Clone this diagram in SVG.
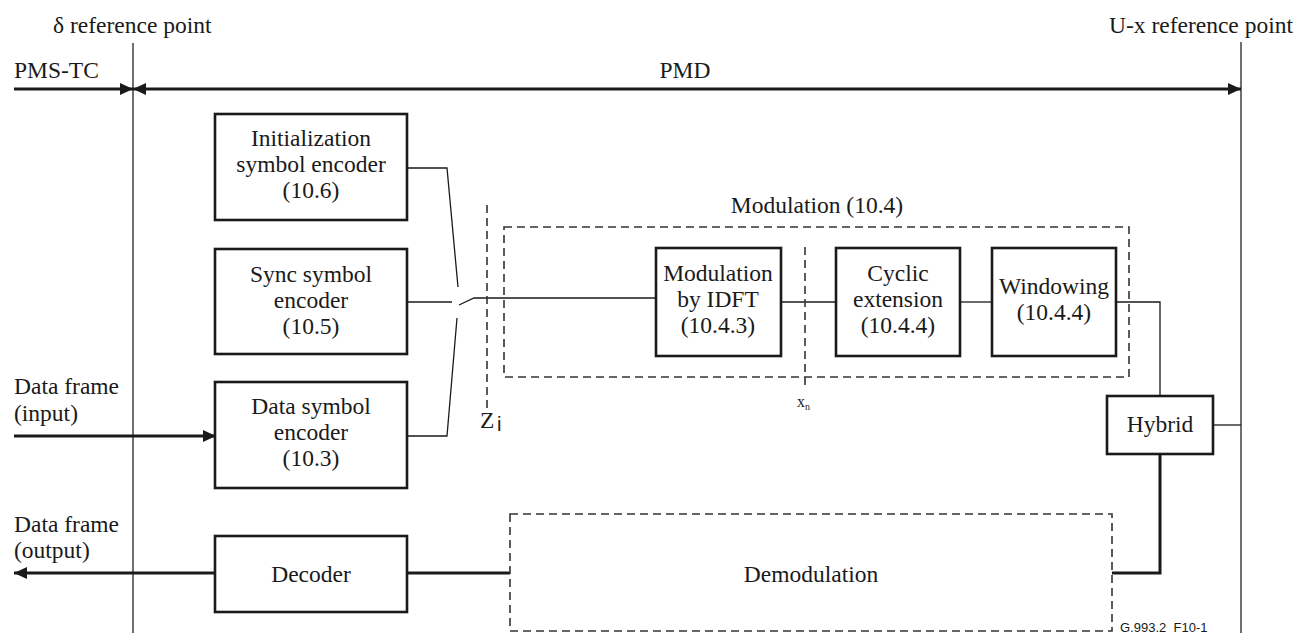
<svg xmlns="http://www.w3.org/2000/svg" width="1296" height="633" viewBox="0 0 1296 633" font-family="Liberation Serif, serif">
<style>
text{font-family:"Times New Roman","Liberation Serif",Tinos,"Nimbus Roman","DejaVu Serif","Noto Serif",serif;font-size:23.5px;fill:#1a1a1a}
.c{text-anchor:middle}
.box{fill:#fff;stroke:#1a1a1a;stroke-width:2.6}
.thin{fill:none;stroke:#1a1a1a;stroke-width:1.3}
.thick{fill:none;stroke:#1a1a1a;stroke-width:3}
.ref{fill:none;stroke:#333;stroke-width:1.4}
.dash{fill:none;stroke:#333;stroke-width:1.6;stroke-dasharray:8 5}
text.lbl{font-family:"Liberation Sans",Arial,sans-serif;font-size:13px}
text.sans{font-family:"Liberation Sans",Arial,sans-serif;font-size:20px}
</style>
<defs>
<marker id="ah" viewBox="0 0 13 12" refX="13" refY="6" markerUnits="userSpaceOnUse" markerWidth="13" markerHeight="12" orient="auto-start-reverse">
<path d="M0,0 L13,6 L0,12 z" fill="#1a1a1a"/>
</marker>
</defs>

<g id="reference-lines">
<line class="ref" x1="133" y1="43" x2="133" y2="633"/>
<line class="ref" x1="1241" y1="42" x2="1241" y2="633"/>
<text x="53" y="33">δ reference point</text>
<text x="1109" y="33">U-x reference point</text>
<text x="14" y="78">PMS-TC</text>
<text class="c" x="685" y="78">PMD</text>
</g>

<g id="connectors">
<line class="thick" x1="14" y1="89" x2="133" y2="89" marker-end="url(#ah)"/>
<line class="thick" x1="133" y1="89" x2="1241" y2="89" marker-start="url(#ah)" marker-end="url(#ah)"/>
<line class="thick" x1="14" y1="436" x2="216" y2="436" marker-end="url(#ah)"/>
<line class="thick" x1="215" y1="573" x2="14" y2="573" marker-end="url(#ah)"/>
<line class="thick" x1="407" y1="573" x2="510" y2="573"/>
<polyline class="thick" points="1160,454 1160,573 1112,573"/>
<polyline class="thin" points="407,168 447,168 458,287"/>
<line class="thin" x1="407" y1="302" x2="452" y2="302"/>
<polyline class="thin" points="407,436 447,436 457,318"/>
<polyline class="thin" points="459,305 474,298 656,298"/>
<line class="thin" x1="781" y1="302" x2="836" y2="302"/>
<line class="thin" x1="960" y1="302" x2="992" y2="302"/>
<polyline class="thin" points="1116,302 1160,302 1160,396"/>
<line class="thin" x1="1213" y1="425" x2="1241" y2="425"/>
<line class="dash" x1="487" y1="205" x2="487" y2="408"/>
<line class="dash" x1="805" y1="247" x2="805" y2="390"/>
<text x="480" y="428">Z</text>
<text class="sans" x="497" y="431">i</text>
<text x="797" y="407" style="font-size:16px">x</text>
<text x="805" y="410" style="font-size:10px">n</text>
</g>

<g id="init-encoder">
<rect class="box" x="215" y="114" width="192" height="106"/>
<text class="c" x="311" y="146">Initialization</text>
<text class="c" x="311" y="172">symbol encoder</text>
<text class="c" x="311" y="198">(10.6)</text>
</g>

<g id="sync-encoder">
<rect class="box" x="215" y="249" width="192" height="105"/>
<text class="c" x="311" y="282">Sync symbol</text>
<text class="c" x="311" y="308">encoder</text>
<text class="c" x="311" y="334">(10.5)</text>
</g>

<g id="data-encoder">
<rect class="box" x="215" y="382" width="192" height="106"/>
<text x="14" y="394">Data frame</text>
<text x="14" y="421">(input)</text>
<text class="c" x="311" y="414">Data symbol</text>
<text class="c" x="311" y="440">encoder</text>
<text class="c" x="311" y="466">(10.3)</text>
</g>

<g id="decoder">
<rect class="box" x="215" y="536" width="192" height="76"/>
<text x="14" y="532">Data frame</text>
<text x="14" y="558">(output)</text>
<text class="c" x="311" y="582">Decoder</text>
</g>

<g id="modulation">
<rect class="dash" x="504" y="227" width="625" height="150"/>
<text class="c" x="817" y="213">Modulation (10.4)</text>
</g>

<g id="idft">
<rect class="box" x="656" y="248" width="125" height="108"/>
<text class="c" x="718" y="281">Modulation</text>
<text class="c" x="718" y="307">by IDFT</text>
<text class="c" x="718" y="333">(10.4.3)</text>
</g>

<g id="cyclic">
<rect class="box" x="836" y="248" width="124" height="108"/>
<text class="c" x="898" y="281">Cyclic</text>
<text class="c" x="898" y="307">extension</text>
<text class="c" x="898" y="333">(10.4.4)</text>
</g>

<g id="windowing">
<rect class="box" x="992" y="248" width="124" height="108"/>
<text class="c" x="1054" y="294">Windowing</text>
<text class="c" x="1054" y="320">(10.4.4)</text>
</g>

<g id="hybrid">
<rect class="box" x="1107" y="396" width="106" height="58"/>
<text class="c" x="1160" y="432">Hybrid</text>
</g>

<g id="demodulation">
<rect class="dash" x="510" y="514" width="602" height="117"/>
<text class="c" x="811" y="582">Demodulation</text>
</g>

<text class="lbl" x="1120" y="632">G.993.2_F10-1</text>
</svg>
